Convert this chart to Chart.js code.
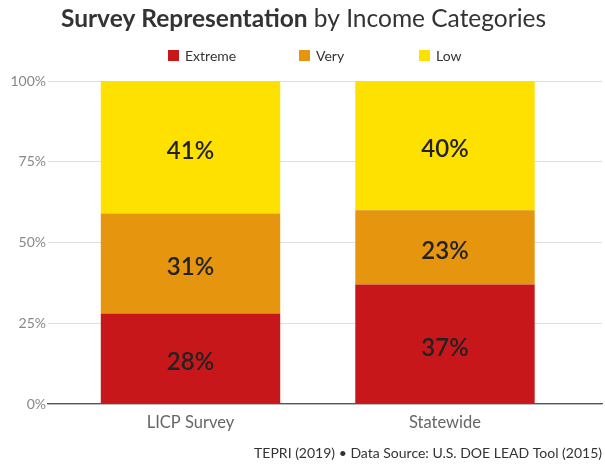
<!DOCTYPE html>
<html>
<head>
<meta charset="utf-8">
<script src="https://cdn.jsdelivr.net/npm/chart.js@4.4.1/dist/chart.umd.min.js"></script>
<style>
  html, body { margin: 0; padding: 0; background: #fff; }
  #wrap { width: 605px; height: 466px; }
</style>
</head>
<body>
<div id="wrap"><canvas id="myChart" width="605" height="466"></canvas></div>

<script>
const categories = ['LICP Survey', 'Statewide'];
const seriesNames = ['Extreme', 'Very', 'Low'];
const extreme = [28, 37];
const very = [31, 23];
const low = [41, 40];
const seriesColors = ['#C8171A', '#E5950E', '#FFE100'];
const yTicks = [0, 25, 50, 75, 100];

const FONT = 'Lato, "Open Sans", sans-serif';

function toPoints(values) {
  return values.map((v, i) => ({x: i, y: v}));
}

// title with mixed weights, legend row, bar labels and footnote
const decorations = {
  id: 'decorations',
  afterDatasetsDraw(chart) {
    const ctx = chart.ctx;
    ctx.save();

    // bar value labels
    ctx.textAlign = 'center';
    ctx.textBaseline = 'middle';
    ctx.fillStyle = '#222';
    ctx.font = '600 24px ' + FONT;
    chart.data.datasets.forEach((ds, di) => {
      const meta = chart.getDatasetMeta(di);
      meta.data.forEach((bar, i) => {
        const mid = (bar.y + bar.base) / 2;
        ctx.fillText(ds.data[i].y + '%', bar.x, mid + 4);
      });
    });
    ctx.restore();
  },
  afterDraw(chart) {
    const ctx = chart.ctx;
    ctx.save();

    // title
    const boldPart = 'Survey Representation';
    const lightPart = ' by Income Categories';
    ctx.textBaseline = 'middle';
    ctx.fillStyle = '#333';
    ctx.font = 'bold 24.5px ' + FONT;
    const w1 = ctx.measureText(boldPart).width;
    ctx.font = '24.5px ' + FONT;
    const w2 = ctx.measureText(lightPart).width;
    let x = 303.5 - (w1 + w2) / 2;
    ctx.textAlign = 'left';
    ctx.font = 'bold 24.5px ' + FONT;
    ctx.fillText(boldPart, x, 19);
    ctx.font = '24.5px ' + FONT;
    ctx.fillText(lightPart, x + w1, 19);

    // legend
    const legendX = [168, 299, 419];
    ctx.font = '14px ' + FONT;
    seriesNames.forEach((name, i) => {
      ctx.fillStyle = seriesColors[i];
      ctx.fillRect(legendX[i], 50, 11, 11);
      ctx.fillStyle = '#333';
      ctx.fillText(name, legendX[i] + 17, 56);
    });

    // footnote
    ctx.textAlign = 'right';
    ctx.font = '14px ' + FONT;
    ctx.fillStyle = '#333';
    ctx.fillText('TEPRI (2019) \u2022 Data Source: U.S. DOE LEAD Tool (2015)', 602, 453);
    ctx.restore();
  }
};

const data = {
  datasets: [
    {label: seriesNames[0], data: toPoints(extreme), backgroundColor: seriesColors[0]},
    {label: seriesNames[1], data: toPoints(very), backgroundColor: seriesColors[1]},
    {label: seriesNames[2], data: toPoints(low), backgroundColor: seriesColors[2]}
  ]
};

const config = {
  type: 'bar',
  data: data,
  options: {
    responsive: false,
    animation: false,
    layout: {padding: {top: 81, right: 3, left: 0, bottom: 22}},
    datasets: {
      bar: {barPercentage: 0.705, categoryPercentage: 1}
    },
    plugins: {
      legend: {display: false},
      title: {display: false},
      tooltip: {enabled: false}
    },
    scales: {
      x: {
        type: 'linear',
        stacked: true,
        offset: false,
        min: -0.56,
        max: 1.617,
        afterBuildTicks: (scale) => {
          scale.ticks = categories.map((c, i) => ({value: i}));
        },
        afterFit: (scale) => { scale.height = 40; },
        grid: {display: false, offset: false},
        border: {display: true, color: '#555', width: 1.2},
        ticks: {
          autoSkip: false,
          maxRotation: 0,
          padding: 1,
          color: '#666',
          font: {family: FONT, size: 16.5},
          callback: (v) => categories[v]
        }
      },
      y: {
        stacked: true,
        min: 0,
        max: 100,
        afterBuildTicks: (scale) => {
          scale.ticks = yTicks.map(v => ({value: v}));
        },
        afterFit: (scale) => { scale.width = 48; },
        grid: {color: '#dedede', drawTicks: false},
        border: {display: false},
        ticks: {
          padding: 2,
          color: '#888',
          font: {family: FONT, size: 14},
          callback: (v) => v + '%'
        }
      }
    }
  },
  plugins: [decorations]
};

var myChart = new Chart(
  document.getElementById('myChart'),
  config
);
</script>
</body>
</html>
